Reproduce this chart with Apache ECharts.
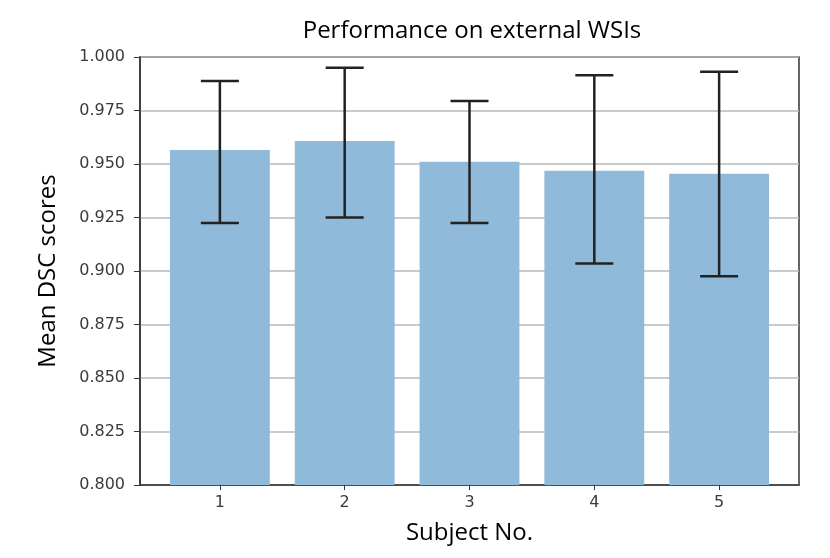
<!DOCTYPE html>
<html>
<head>
<meta charset="utf-8">
<script src="https://cdn.jsdelivr.net/npm/echarts@6/dist/echarts.min.js"></script>
<style>html,body{margin:0;padding:0;background:#fff;}#chart{width:830px;height:558px;}</style>
</head>
<body>
<div id="chart"></div>
<script>
const subjects = [1, 2, 3, 4, 5];
const meanDSC = [0.9565, 0.9608, 0.9511, 0.9469, 0.9455];
const errLow = [0.9224, 0.9250, 0.9224, 0.9035, 0.8975];
const errHigh = [0.9888, 0.9950, 0.9794, 0.9915, 0.9931];
const yMin = 0.8, yMax = 1.0, yStep = 0.025;

const barData = subjects.map((s, i) => [s, meanDSC[i]]);
const errData = subjects.map((s, i) => [s, errLow[i], errHigh[i]]);

const chart = echarts.init(document.getElementById('chart'), null, {renderer: 'canvas'});
const lbl = {fontFamily: 'DejaVu Sans', fontSize: 16, color: '#3a3a3a'};
const nameFont = {fontFamily: 'Open Sans', fontSize: 24, color: '#000'};
chart.setOption({
  animation: false,
  backgroundColor: '#fff',
  title: {
    text: 'Performance on external WSIs',
    left: 467, top: 14, textAlign: 'center',
    textStyle: {fontFamily: 'Open Sans', fontSize: 24, fontWeight: 'normal', color: '#000'}
  },
  grid: {left: 140, right: 31, top: 57, bottom: 73, show: true, borderColor: '#333', borderWidth: 1.5, backgroundColor: 'transparent'},
  xAxis: {
    type: 'value', min: 0.36, max: 5.64,
    name: 'Subject No.', nameLocation: 'middle', nameGap: 36,
    nameTextStyle: nameFont,
    axisLine: {show: true, lineStyle: {color: '#333', width: 1.5}},
    axisTick: {show: true, customValues: subjects, length: 5, lineStyle: {color: '#333'}},
    axisLabel: Object.assign({customValues: subjects, margin: 10, formatter: v => String(v)}, lbl),
    splitLine: {show: false}
  },
  yAxis: {
    type: 'value', min: yMin, max: yMax, interval: yStep,
    name: 'Mean DSC scores', nameLocation: 'middle', nameGap: 80, nameRotate: 90,
    nameTextStyle: nameFont,
    axisLine: {show: true, lineStyle: {color: '#333', width: 1.5}},
    axisTick: {show: true, length: 6, lineStyle: {color: '#333'}},
    axisLabel: Object.assign({margin: 15, formatter: v => v.toFixed(3)}, lbl),
    splitLine: {show: true, lineStyle: {color: '#b8b8b8', width: 1.5}}
  },
  series: [
    {
      type: 'custom', data: barData, z: 2,
      renderItem: (params, api) => {
        const x = api.value(0), y = api.value(1);
        const p0 = api.coord([x - 0.4, y]);
        const p1 = api.coord([x + 0.4, yMin]);
        return {type: 'rect', shape: {x: p0[0], y: p0[1], width: p1[0] - p0[0], height: p1[1] - p0[1]},
                style: {fill: '#8fbad9'}};
      }
    },
    {
      type: 'custom', data: errData, z: 3,
      renderItem: (params, api) => {
        const x = api.value(0);
        const lo = api.coord([x, api.value(1)]);
        const hi = api.coord([x, api.value(2)]);
        const cw = 19;
        const st = {stroke: '#222', lineWidth: 2.5};
        return {type: 'group', children: [
          {type: 'line', shape: {x1: lo[0], y1: lo[1], x2: hi[0], y2: hi[1]}, style: st},
          {type: 'line', shape: {x1: lo[0] - cw, y1: lo[1], x2: lo[0] + cw, y2: lo[1]}, style: st},
          {type: 'line', shape: {x1: hi[0] - cw, y1: hi[1], x2: hi[0] + cw, y2: hi[1]}, style: st}
        ]};
      }
    }
  ]
});
</script>
</body>
</html>
